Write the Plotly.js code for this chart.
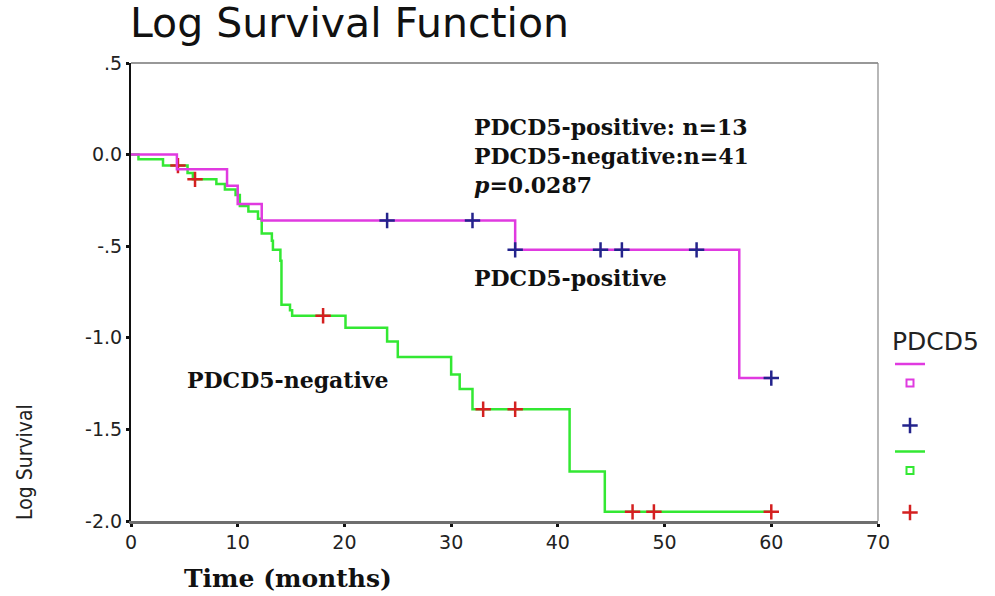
<!DOCTYPE html>
<html>
<head>
<meta charset="utf-8">
<script src="https://cdn.plot.ly/plotly-3.0.1.min.js"></script>
<style>
  html, body { margin: 0; padding: 0; background: #fff; }
  #chart { width: 995px; height: 596px; }
</style>
</head>
<body>
<div id="chart"></div>
<script>
// ---- data (Kaplan-Meier log survival) ----
const posTime = [0, 4.3, 9, 10, 12.25, 36, 57, 60];
const posLogS = [0, -0.08, -0.17, -0.27, -0.36, -0.52, -1.22, -1.22];

const negTime = [0, 0.7, 3, 5.3, 5.8, 8, 8.8, 9.8, 10.2, 11, 11.9, 12.25, 13.2, 13.3, 14, 14.1, 14.9, 15.1, 20.1, 24, 25, 30, 30.8, 32, 41.1, 44.4, 60];
const negLogS = [0, -0.025, -0.06, -0.10, -0.135, -0.16, -0.19, -0.22, -0.28, -0.31, -0.35, -0.43, -0.47, -0.52, -0.58, -0.82, -0.85, -0.88, -0.945, -1.02, -1.105, -1.2, -1.28, -1.39, -1.73, -1.95, -1.95];

const posCensTime = [24, 32, 36, 44, 46, 53, 60];
const posCensLogS = [-0.36, -0.36, -0.52, -0.52, -0.52, -0.52, -1.22];

const negCensTime = [4.4, 6, 18, 33, 36, 47, 49, 60];
const negCensLogS = [-0.06, -0.135, -0.88, -1.39, -1.39, -1.95, -1.95, -1.95];

const yTickVals = [0.5, 0, -0.5, -1.0, -1.5, -2.0];
const yTickText = [".5", "0.0", "-.5", "-1.0", "-1.5", "-2.0"];
const xTickVals = [0, 10, 20, 30, 40, 50, 60, 70];

// ---- styles ----
const MAGENTA = '#e03ae0';
const GREEN = '#33e833';
const BLUE = '#23238c';
const RED = '#d42020';
const serifBold = {family: 'DejaVu Serif', size: 22, color: '#111', weight: 'bold'};
const narrow = 'Liberation Sans Narrow, DejaVu Sans Condensed, sans-serif';

const traces = [
  {x: posTime, y: posLogS, mode: 'lines', line: {shape: 'hv', color: MAGENTA, width: 2.5},
   name: ' ', legend: 'legend', showlegend: true, hoverinfo: 'skip'},
  {x: [null], y: [null], mode: 'markers', marker: {symbol: 'square-open', color: MAGENTA, size: 7, line: {width: 2}},
   name: ' ', legend: 'legend', showlegend: true, hoverinfo: 'skip'},
  {x: posCensTime, y: posCensLogS, mode: 'markers',
   marker: {symbol: 'cross-thin', size: 11, line: {color: BLUE, width: 2.5}, color: BLUE},
   name: ' ', legend: 'legend2', showlegend: true, hoverinfo: 'skip'},
  {x: negTime, y: negLogS, mode: 'lines', line: {shape: 'hv', color: GREEN, width: 2.5},
   name: ' ', legend: 'legend3', showlegend: true, hoverinfo: 'skip'},
  {x: [null], y: [null], mode: 'markers', marker: {symbol: 'square-open', color: GREEN, size: 7, line: {width: 2}},
   name: ' ', legend: 'legend3', showlegend: true, hoverinfo: 'skip'},
  {x: negCensTime, y: negCensLogS, mode: 'markers',
   marker: {symbol: 'cross-thin', size: 11, line: {color: RED, width: 2.5}, color: RED},
   name: ' ', legend: 'legend4', showlegend: true, hoverinfo: 'skip'}
];
// draw positive curve and its censor marks on top of negative
const order = [3, 5, 0, 2, 1, 4];
const data = order.map(i => traces[i]);

const legendBase = {
  xanchor: 'left', yanchor: 'top', bgcolor: 'rgba(0,0,0,0)', borderwidth: 0,
  font: {family: 'DejaVu Sans', size: 8, color: '#000'}, tracegroupgap: 0, itemwidth: 30
};

const layout = {
  width: 995, height: 596,
  paper_bgcolor: '#fff', plot_bgcolor: '#fff',
  margin: {l: 131, r: 117, t: 63, b: 75},
  showlegend: true,
  title: {text: 'Log Survival Function', x: 130/995, xanchor: 'left', y: 1 - 23/596, yanchor: 'middle',
          font: {family: 'DejaVu Sans', size: 41, color: '#111'}},
  xaxis: {range: [0, 70], tickvals: xTickVals, ticktext: xTickVals.map(String),
          showline: true, linecolor: '#6e6e6e', linewidth: 2.5, showgrid: false, zeroline: false,
          ticks: 'outside', ticklen: 3, tickwidth: 3, tickcolor: '#111',
          tickfont: {family: 'DejaVu Sans', size: 19, color: '#222'}, fixedrange: true},
  yaxis: {range: [-2.0, 0.5], tickvals: yTickVals, ticktext: yTickText,
          showline: true, linecolor: '#111', linewidth: 2, showgrid: false, zeroline: false,
          ticks: 'outside', ticklen: 3, tickwidth: 3, tickcolor: '#111',
          tickfont: {family: 'DejaVu Sans', size: 19, color: '#222'}, fixedrange: true},
  shapes: [
    {type: 'line', xref: 'paper', yref: 'paper', x0: 0, x1: 1, y0: 1, y1: 1, line: {color: '#333', width: 1.2}},
    {type: 'line', xref: 'paper', yref: 'paper', x0: 1, x1: 1, y0: 0, y1: 1, line: {color: '#888', width: 1.2}}
  ],
  annotations: [
    {text: 'PDCD5-positive: n=13', x: 32, y: 0.151, xref: 'x', yref: 'y', xanchor: 'left', yanchor: 'middle', showarrow: false, font: serifBold},
    {text: 'PDCD5-negative:n=41', x: 32, y: -0.008, xref: 'x', yref: 'y', xanchor: 'left', yanchor: 'middle', showarrow: false, font: serifBold},
    {text: '<i>p</i>=0.0287', x: 32, y: -0.166, xref: 'x', yref: 'y', xanchor: 'left', yanchor: 'middle', showarrow: false, font: serifBold},
    {text: 'PDCD5-positive', x: 32, y: -0.674, xref: 'x', yref: 'y', xanchor: 'left', yanchor: 'middle', showarrow: false, font: serifBold},
    {text: 'PDCD5-negative', x: 5.1, y: -1.23, xref: 'x', yref: 'y', xanchor: 'left', yanchor: 'middle', showarrow: false, font: serifBold},
    {text: 'Time (months)', x: (288 - 131) / 747, y: -57 / 458, xref: 'paper', yref: 'paper', xanchor: 'center', yanchor: 'middle',
     showarrow: false, font: {family: 'DejaVu Serif', size: 25, color: '#111', weight: 'bold'}},
    {text: 'Log Survival', x: -106 / 747, y: (521 - 462) / 458, xref: 'paper', yref: 'paper', xanchor: 'center', yanchor: 'middle',
     textangle: -90, showarrow: false, font: {family: narrow, size: 21, color: '#222'}}
  ],
  legend: Object.assign({}, legendBase, {x: (890 - 131) / 747, y: (521 - 317) / 458,
    title: {text: 'PDCD5', font: {family: 'DejaVu Sans', size: 25, color: '#222'}}}),
  legend2: Object.assign({}, legendBase, {x: (890 - 131) / 747, y: (521 - 411) / 458}),
  legend3: Object.assign({}, legendBase, {x: (890 - 131) / 747, y: (521 - 437) / 458}),
  legend4: Object.assign({}, legendBase, {x: (890 - 131) / 747, y: (521 - 498) / 458}),
  hovermode: false
};

Plotly.newPlot('chart', data, layout, {displayModeBar: false, staticPlot: true});
</script>
</body>
</html>
